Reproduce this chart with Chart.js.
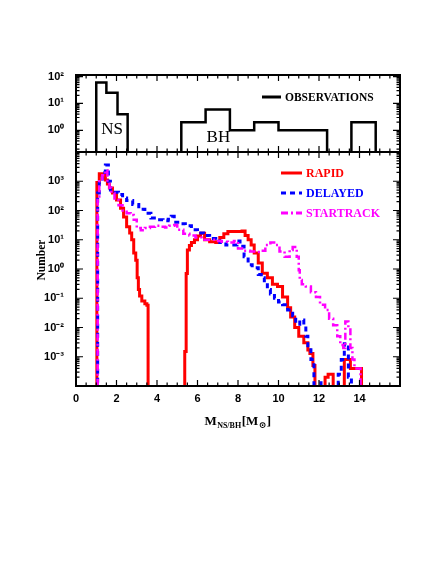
<!DOCTYPE html>
<html>
<head>
<meta charset="utf-8">
<script src="https://cdn.jsdelivr.net/npm/chart.js@4.4.1/dist/chart.umd.min.js"></script>
<style>
  body { margin: 0; background: #fff; }
  canvas { position: absolute; left: 0; }
</style>
</head>
<body>
<canvas id="obsChart" width="436" height="160" style="top:0"></canvas>
<canvas id="simChart" width="436" height="424" style="top:140px"></canvas>
<script>
// Observed NS/BH masses (histogram bin left edges + counts)
const obsEdges = [0.9, 1.0, 1.5, 2.05, 2.55, 5.2, 6.4, 7.6, 8.8, 10.0, 11.2, 12.4, 13.6, 14.8];
const obsCounts = [0, 60, 25, 4, 0, 2, 6, 1, 2, 1, 1, 0, 2, 0];

// Population synthesis: RAPID
const rapidMass = [0.9, 1.03, 1.15, 1.3, 1.45, 1.55, 1.65, 1.8, 2.0, 2.2, 2.35, 2.5, 2.65, 2.75, 2.85, 2.95, 3.02, 3.08, 3.14, 3.25, 3.4, 3.5, 3.56,
  5.37, 5.44, 5.5, 5.6, 5.7, 5.85, 6.0, 6.15, 6.35, 6.6, 6.9, 7.1, 7.3, 7.5, 7.9, 8.2, 8.35, 8.5, 8.65, 8.8, 9.0, 9.2, 9.45, 9.7, 9.95,
  10.2, 10.45, 10.6, 10.8, 11.0, 11.25, 11.45, 11.55, 11.7, 11.8, 12.3, 12.45, 12.7, 13.25, 13.55, 14.1];
const rapidNum = [0, 900, 1800, 1600, 1100, 800, 590, 400, 230, 120, 60, 28, 17, 10, 3.5, 2, 0.5, 0.2, 0.12, 0.08, 0.065, 0.058, 0,
  0.0015, 0.7, 4.5, 6.3, 8, 10, 13.5, 16.6, 10, 8.5, 8, 12, 16, 19, 19, 20, 14, 10, 6.6, 3.5, 1.6, 0.72, 0.5, 0.3, 0.25,
  0.11, 0.047, 0.023, 0.01, 0.005, 0.003, 0.0017, 0.0013, 0.0005, 0, 0.0002, 0.00025, 0, 0.0008, 0.0004, 0];

// DELAYED
const delayedMass = [0.9, 1.07, 1.15, 1.3, 1.45, 1.6, 1.7, 1.85, 2.1, 2.3, 2.5, 2.8, 3.1, 3.4, 3.7, 4.0, 4.3, 4.55, 4.7, 4.85,
  5.1, 5.4, 5.7, 6.0, 6.3, 6.6, 6.9, 7.1, 7.4, 7.7, 7.95, 8.1, 8.3, 8.5, 8.7, 9.0, 9.15, 9.3, 9.45, 9.6, 9.8,
  10.0, 10.2, 10.45, 10.7, 10.85, 11.05, 11.25, 11.35, 11.45, 11.6, 11.75, 11.95, 12.1, 12.95, 13.1, 13.25, 13.45, 13.6];
const delayedNum = [0, 400, 1200, 2000, 3600, 1000, 500, 420, 350, 270, 220, 160, 110, 80, 55, 48, 45, 50, 63, 40,
  35, 30, 22, 17, 14, 11, 9, 8, 6.6, 6.6, 9, 6, 2.6, 1.4, 1.1, 0.65, 0.5, 0.35, 0.2, 0.14, 0.1,
  0.075, 0.06, 0.04, 0.025, 0.013, 0.018, 0.012, 0.005, 0.002, 0.0008, 0, 0.00013, 0, 0.00025, 0.0008, 0.0028, 0.0002, 0];

// STARTRACK
const startrackMass = [0.9, 1.07, 1.15, 1.3, 1.45, 1.55, 1.65, 1.75, 1.9, 2.1, 2.3, 2.5, 2.7, 2.85, 3.0, 3.2, 3.4, 3.65, 3.9, 4.15,
  4.4, 4.6, 4.85, 5.0, 5.3, 5.6, 5.9, 6.2, 6.5, 6.9, 7.2, 7.5, 7.8, 8.0, 8.3, 8.6, 8.9, 9.1, 9.35, 9.6, 9.85,
  10.05, 10.3, 10.55, 10.7, 10.9, 11.0, 11.05, 11.15, 11.35, 11.6, 11.85, 12.05, 12.3, 12.5, 12.7, 12.9, 13.05, 13.2, 13.3,
  13.45, 13.55, 13.65, 13.75, 14.05];
const startrackNum = [0, 300, 1000, 1600, 2400, 900, 600, 400, 230, 150, 100, 80, 70, 48, 25, 21, 25, 28, 30, 28,
  26, 30, 32, 22, 16, 14, 12, 10, 10, 9, 8.5, 8, 9, 5, 4.2, 4, 3.8, 4.2, 6.6, 8, 6.6,
  4, 2.6, 4.5, 5.6, 2.6, 0.9, 0.42, 0.3, 0.25, 0.16, 0.11, 0.06, 0.04, 0.02, 0.012, 0.005, 0.0025, 0.002, 0.016,
  0.01, 0.002, 0.0008, 0.0004, 0];

const xTicks = [0, 2, 4, 6, 8, 10, 12, 14];
const obsYTicks = [1, 10, 100];
const simYTicks = [1e-3, 1e-2, 1e-1, 1, 10, 100, 1000];

const SUP = { '-': '\u207B', '0': '\u2070', '1': '\u00B9', '2': '\u00B2', '3': '\u00B3' };
function powLabel(v) {
  const e = String(Math.round(Math.log10(v)));
  return '10' + e.split('').map(c => SUP[c]).join('');
}

// empty bins go far below the axis so the step drops off the bottom
function steps(mass, num) {
  return mass.map((m, i) => ({ x: m, y: num[i] > 0 ? num[i] : 1e-9 }));
}

// keep tick-label overflow from eating into the fixed plot box
function noPad(s) {
  s.paddingTop = 0; s.paddingBottom = 0; s.paddingLeft = 0; s.paddingRight = 0;
}

const tickFont = { family: 'Liberation Sans', size: 11, weight: 'bold' };

// frame + inward ticks on all four sides
const frameTicks = {
  id: 'frameTicks',
  afterDatasetsDraw(chart) {
    const { ctx, chartArea: a, scales: { x, y } } = chart;
    ctx.save();
    ctx.strokeStyle = '#000';
    ctx.lineWidth = 1.2;
    ctx.beginPath();
    for (let v = 0; v <= 16; v += 0.5) {
      const px = x.getPixelForValue(v);
      const len = v % 2 === 0 ? 6 : 3.5;
      ctx.moveTo(px, a.bottom); ctx.lineTo(px, a.bottom - len);
      ctx.moveTo(px, a.top); ctx.lineTo(px, a.top + len);
    }
    const d0 = Math.floor(Math.log10(y.min)), d1 = Math.ceil(Math.log10(y.max));
    for (let d = d0; d <= d1; d++) {
      for (let k = 1; k < 10; k++) {
        const v = k * Math.pow(10, d);
        if (v < y.min || v > y.max) continue;
        const py = y.getPixelForValue(v);
        const len = k === 1 ? 7 : 3.5;
        ctx.moveTo(a.left, py); ctx.lineTo(a.left + len, py);
        ctx.moveTo(a.right, py); ctx.lineTo(a.right - len, py);
      }
    }
    ctx.stroke();
    ctx.lineWidth = 2;
    ctx.strokeRect(a.left, a.top, a.right - a.left, a.bottom - a.top);
    ctx.restore();
  }
};

const obsDecor = {
  id: 'obsDecor',
  afterDraw(chart) {
    const { ctx, chartArea: a, scales: { x, y } } = chart;
    ctx.save();
    ctx.fillStyle = '#000';
    ctx.font = '17px "Liberation Serif"';
    ctx.textBaseline = 'alphabetic';
    ctx.fillText('NS', x.getPixelForValue(1.25), y.getPixelForValue(0.7));
    ctx.fillText('BH', x.getPixelForValue(6.45), y.getPixelForValue(0.36));
    // legend
    const ly = a.top + 22;
    ctx.strokeStyle = '#000';
    ctx.lineWidth = 3;
    ctx.beginPath();
    ctx.moveTo(a.left + 186, ly); ctx.lineTo(a.left + 205, ly);
    ctx.stroke();
    ctx.font = 'bold 11.5px "Liberation Serif"';
    ctx.textBaseline = 'middle';
    ctx.fillText('OBSERVATIONS', a.left + 209, ly + 1);
    ctx.restore();
  }
};

const simDecor = {
  id: 'simDecor',
  afterDraw(chart) {
    const { ctx, chartArea: a } = chart;
    ctx.save();
    const items = chart.data.datasets;
    ctx.font = 'bold 12px "Liberation Serif"';
    ctx.textBaseline = 'middle';
    items.forEach((ds, i) => {
      const ly = a.top + 21 + i * 20;
      ctx.strokeStyle = ds.borderColor;
      ctx.lineWidth = 3;
      ctx.setLineDash(ds.borderDash || []);
      ctx.beginPath();
      ctx.moveTo(a.left + 205, ly); ctx.lineTo(a.left + 226, ly);
      ctx.stroke();
      ctx.fillStyle = ds.borderColor;
      ctx.fillText(ds.label, a.left + 230, ly + 1);
    });
    ctx.setLineDash([]);
    // axis titles
    ctx.fillStyle = '#000';
    ctx.textBaseline = 'alphabetic';
    const cx = (a.left + a.right) / 2;
    const by = a.bottom + 39;
    const parts = [
      ['M', 'bold 13px "Liberation Serif"', 0],
      ['NS/BH', 'bold 8px "Liberation Serif"', 3],
      ['[M', 'bold 13px "Liberation Serif"', 0],
      ['\u2299', 'bold 9px "DejaVu Serif"', 3],
      [']', 'bold 13px "Liberation Serif"', 0]
    ];
    let total = 0;
    parts.forEach(p => { ctx.font = p[1]; total += ctx.measureText(p[0]).width + 0.5; });
    let px = cx - total / 2;
    parts.forEach(p => {
      ctx.font = p[1];
      ctx.fillText(p[0], px, by + p[2]);
      px += ctx.measureText(p[0]).width + 0.5;
    });
    ctx.translate(a.left - 31, (a.top + a.bottom) / 2 - 9);
    ctx.rotate(-Math.PI / 2);
    ctx.textAlign = 'center';
    ctx.font = 'bold 11.5px "Liberation Serif"';
    ctx.fillText('Number', 0, 0);
    ctx.restore();
  }
};

new Chart(document.getElementById('obsChart').getContext('2d'), {
  type: 'line',
  data: {
    datasets: [{
      label: 'OBSERVATIONS',
      data: steps(obsEdges, obsCounts),
      borderColor: '#000',
      borderWidth: 2.5,
      stepped: 'before',
      pointRadius: 0,
      fill: false
    }]
  },
  options: {
    responsive: false,
    animation: false,
    events: [],
    layout: { padding: { left: 0, top: 75, right: 36, bottom: 8 } },
    plugins: { legend: { display: false }, tooltip: { enabled: false } },
    scales: {
      x: {
        type: 'linear', min: 0, max: 16,
        ticks: { display: false },
        grid: { display: false, drawTicks: false },
        border: { display: false },
        afterFit: s => { s.height = 0; noPad(s); }
      },
      y: {
        type: 'logarithmic', min: 0.155, max: 115,
        grid: { display: false, drawTicks: false },
        border: { display: false },
        afterBuildTicks: s => { s.ticks = obsYTicks.map(v => ({ value: v })); },
        ticks: { callback: powLabel, font: tickFont, color: '#000', padding: 12 },
        afterFit: s => { s.width = 76; noPad(s); }
      }
    }
  },
  plugins: [frameTicks, obsDecor]
});

new Chart(document.getElementById('simChart').getContext('2d'), {
  type: 'line',
  data: {
    datasets: [
      { label: 'RAPID', data: steps(rapidMass, rapidNum), borderColor: '#ff0000', borderWidth: 3, order: 3 },
      { label: 'DELAYED', data: steps(delayedMass, delayedNum), borderColor: '#0000ff', borderWidth: 3, borderDash: [5, 4], order: 2 },
      { label: 'STARTRACK', data: steps(startrackMass, startrackNum), borderColor: '#ff00ff', borderWidth: 2.5, borderDash: [7, 3, 2, 3], order: 1 }
    ].map(ds => Object.assign(ds, { stepped: 'before', pointRadius: 0, fill: false }))
  },
  options: {
    responsive: false,
    animation: false,
    events: [],
    layout: { padding: { left: 0, top: 12, right: 36, bottom: 128 } },
    plugins: { legend: { display: false }, tooltip: { enabled: false } },
    scales: {
      x: {
        type: 'linear', min: 0, max: 16,
        grid: { display: false, drawTicks: false },
        border: { display: false },
        afterBuildTicks: s => { s.ticks = xTicks.map(v => ({ value: v })); },
        ticks: { font: tickFont, color: '#000', padding: 6, maxRotation: 0 },
        afterFit: s => { s.height = 50; noPad(s); }
      },
      y: {
        type: 'logarithmic', min: 1e-4, max: 1e4,
        grid: { display: false, drawTicks: false },
        border: { display: false },
        afterBuildTicks: s => { s.ticks = simYTicks.map(v => ({ value: v })); },
        ticks: { callback: powLabel, font: tickFont, color: '#000', padding: 12 },
        afterFit: s => { s.width = 76; noPad(s); }
      }
    }
  },
  plugins: [frameTicks, simDecor]
});
</script>
</body>
</html>
